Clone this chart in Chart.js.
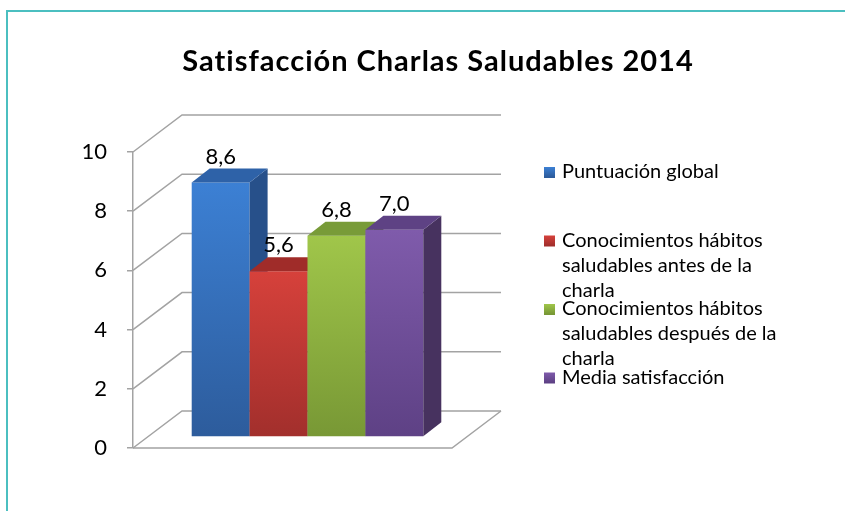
<!DOCTYPE html>
<html>
<head>
<meta charset="utf-8">
<script src="https://cdn.jsdelivr.net/npm/chart.js@4.4.0/dist/chart.umd.min.js"></script>
<style>
  html, body { margin: 0; padding: 0; background: #fff; }
  #wrap { position: relative; width: 845px; height: 511px; overflow: hidden; }
  #frame { position: absolute; left: 6px; top: 10px; right: -10px; bottom: -10px;
           border-left: 2px solid #4bbfc0; border-top: 2px solid #4bbfc0; }
  canvas { position: absolute; left: 0; top: 0; }
</style>
</head>
<body>
<div id="wrap">
  <div id="frame"></div>
  <canvas id="satisfaccionChart" width="845" height="511"></canvas>
</div>
<script>
const ctx = document.getElementById('satisfaccionChart').getContext('2d');

// Data
const CHART_TITLE = 'Satisfacción Charlas Saludables 2014';
const CATEGORIES = [''];
const SERIES_NAMES = [
  ['Puntuación global'],
  ['Conocimientos hábitos', 'saludables antes de la', 'charla'],
  ['Conocimientos hábitos', 'saludables después de la', 'charla'],
  ['Media satisfacción']
];
const SERIES_VALUES = [8.6, 5.6, 6.8, 7.0];
const Y_MIN = 0;
const Y_MAX = 10;
const Y_STEP = 2;

// Styles
const FONT = 'Lato, "Noto Sans", sans-serif';
const GRID_COLOR = '#a3a3a3';
const COLORS = [
  { top: '#3c80d4', bottom: '#2d5c9c', side: '#27508a', cap: '#2e62a8' },
  { top: '#d6413b', bottom: '#a22f2c', side: '#8e2926', cap: '#a02c29' },
  { top: '#a0c64a', bottom: '#789835', side: '#65812c', cap: '#789b38' },
  { top: '#7f5bab', bottom: '#5e4185', side: '#47325f', cap: '#5e4284' }
];
// 3D offsets
const WALL_DX = 49, WALL_DY = -37;      // depth of the floor / back wall
const BAR_DX = 15, BAR_DY = -11;        // bar front face position inside the depth
const BAR_DEPTH_DX = 18, BAR_DEPTH_DY = -14;

const threeD = {
  id: 'threeD',
  beforeDatasetsDraw(chart) {
    const { ctx, chartArea: a, scales: { y } } = chart;
    ctx.save();
    ctx.strokeStyle = GRID_COLOR;
    ctx.lineWidth = 1.5;

    // left wall diagonals + back wall gridlines
    y.ticks.forEach(t => {
      const py = y.getPixelForValue(t.value);
      ctx.beginPath();
      ctx.moveTo(a.left, py);
      ctx.lineTo(a.left + WALL_DX, py + WALL_DY);
      ctx.lineTo(a.right + WALL_DX, py + WALL_DY);
      ctx.stroke();
    });

    // floor front + right edge
    const p0 = y.getPixelForValue(Y_MIN);
    ctx.beginPath();
    ctx.moveTo(a.left, p0);
    ctx.lineTo(a.right, p0);
    ctx.lineTo(a.right + WALL_DX, p0 + WALL_DY);
    ctx.stroke();

    // bars, drawn in order so later fronts cover earlier sides
    chart.data.datasets.forEach((ds, i) => {
      const bar = chart.getDatasetMeta(i).data[0];
      const c = COLORS[i];
      const left = bar.x - bar.width / 2 + BAR_DX;
      const right = bar.x + bar.width / 2 + BAR_DX;
      const top = bar.y + BAR_DY;
      const base = bar.base + BAR_DY;

      const g = ctx.createLinearGradient(0, top, 0, base);
      g.addColorStop(0, c.top);
      g.addColorStop(1, c.bottom);
      ctx.fillStyle = g;
      ctx.fillRect(left, top, right - left, base - top);

      ctx.fillStyle = c.side;
      ctx.beginPath();
      ctx.moveTo(right, top);
      ctx.lineTo(right + BAR_DEPTH_DX, top + BAR_DEPTH_DY);
      ctx.lineTo(right + BAR_DEPTH_DX, base + BAR_DEPTH_DY);
      ctx.lineTo(right, base);
      ctx.closePath();
      ctx.fill();

      ctx.fillStyle = c.cap;
      ctx.beginPath();
      ctx.moveTo(left, top);
      ctx.lineTo(left + BAR_DEPTH_DX, top + BAR_DEPTH_DY);
      ctx.lineTo(right + BAR_DEPTH_DX, top + BAR_DEPTH_DY);
      ctx.lineTo(right, top);
      ctx.closePath();
      ctx.fill();
    });

    // value labels
    ctx.fillStyle = '#000';
    ctx.font = '22px ' + FONT;
    ctx.textAlign = 'center';
    ctx.textBaseline = 'middle';
    chart.data.datasets.forEach((ds, i) => {
      const bar = chart.getDatasetMeta(i).data[0];
      ctx.fillText(ds.data[0].toFixed(1).replace('.', ','), bar.x + BAR_DX, bar.y + BAR_DY - 26);
    });

    ctx.restore();
    return false;
  },
  afterDraw(chart) {
    const { ctx } = chart;
    ctx.save();
    // title
    ctx.fillStyle = '#000';
    ctx.font = 'bold 29px ' + FONT;
    ctx.letterSpacing = '1px';
    ctx.textAlign = 'center';
    ctx.textBaseline = 'alphabetic';
    ctx.fillText(CHART_TITLE, 438, 71);
    ctx.letterSpacing = '0px';

    // legend
    ctx.font = '20px ' + FONT;
    ctx.textAlign = 'left';
    ctx.textBaseline = 'middle';
    chart.data.datasets.forEach((ds, i) => {
      const cy = 172 + i * 68.5;
      const c = COLORS[i];
      const g = ctx.createLinearGradient(0, cy - 5, 0, cy + 5);
      g.addColorStop(0, c.top);
      g.addColorStop(1, c.bottom);
      ctx.fillStyle = g;
      ctx.fillRect(544, cy - 5, 11, 11);
      ctx.fillStyle = '#000';
      SERIES_NAMES[i].forEach((line, j) => ctx.fillText(line, 562, cy + j * 25));
    });
    ctx.restore();
  }
};

new Chart(ctx, {
  type: 'bar',
  data: {
    labels: CATEGORIES,
    datasets: SERIES_VALUES.map((v, i) => ({
      label: SERIES_NAMES[i].join(' '),
      data: [v],
      backgroundColor: COLORS[i].top,
      categoryPercentage: 0.726,
      barPercentage: 1.0
    }))
  },
  options: {
    responsive: false,
    animation: false,
    layout: { padding: { left: 0, top: 152, right: 393, bottom: 63 } },
    plugins: {
      legend: { display: false },
      title: { display: false },
      tooltip: { enabled: false }
    },
    scales: {
      x: { display: false },
      y: {
        min: Y_MIN,
        max: Y_MAX,
        afterFit: s => { s.width = 133; },
        ticks: {
          stepSize: Y_STEP,
          color: '#000',
          padding: 20,
          font: { family: FONT, size: 22 }
        },
        grid: { display: true, drawOnChartArea: false, drawTicks: true, tickLength: 6, color: GRID_COLOR, lineWidth: 1.5 },
        border: { display: true, color: GRID_COLOR, width: 1.5 }
      }
    }
  },
  plugins: [threeD]
});
</script>
</body>
</html>
